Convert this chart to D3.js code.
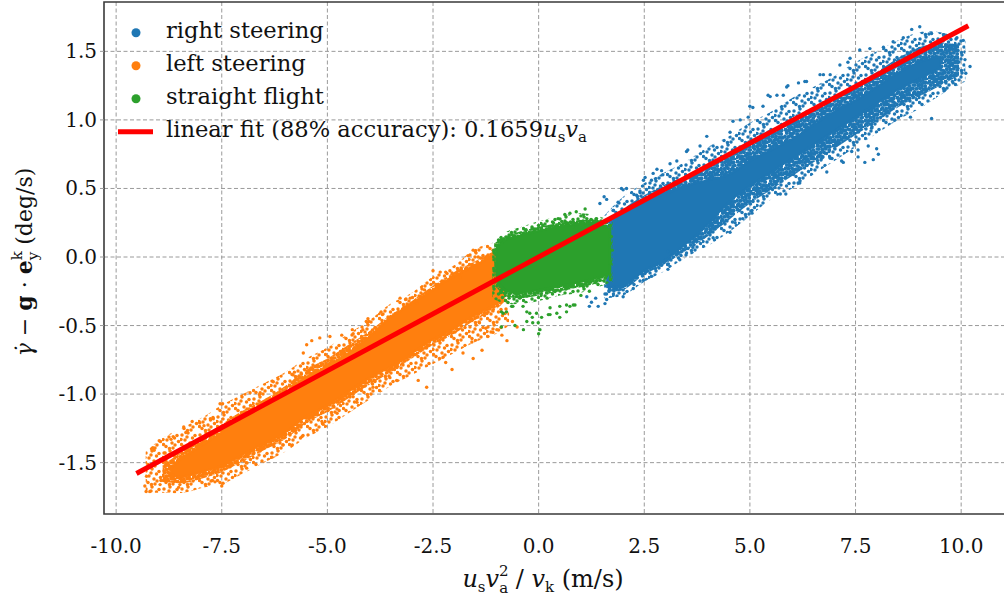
<!DOCTYPE html>
<html><head><meta charset="utf-8">
<script src="https://cdn.jsdelivr.net/npm/d3@7"></script>
<style>
body{margin:0;background:#fff}
svg{display:block}
text{font-family:"DejaVu Serif",serif;fill:#111}
</style>
</head><body>
<svg id="chart" width="1004" height="602"></svg>
<script>
// ---------- data ----------
const xTicks = [-10, -7.5, -5, -2.5, 0, 2.5, 5, 7.5, 10];
const yTicks = [-1.5, -1, -0.5, 0, 0.5, 1, 1.5];
const seriesNames = ["right steering", "left steering", "straight flight"];
const seriesColors = ["#1f77b4", "#ff7f0e", "#2ca02c"];
const fitSlope = 0.1659;
const fitRange = [-9.52, 10.17];

// solid (fully covered) centre of each cloud: [x, yLow, yHigh]
const rightSolid = [[1.62,-0.22,0.22],[2.0,-0.21,0.32],[2.5,-0.10,0.40],[3.0,-0.02,0.46],[3.5,0.10,0.52],[4.0,0.24,0.56],[4.5,0.40,0.60],[5.0,0.52,0.70],[5.5,0.62,0.78],[6.0,0.72,0.86],[6.5,0.82,0.96],[7.0,0.92,1.06],[7.5,1.02,1.14],[8.0,1.12,1.24],[8.5,1.22,1.34],[9.0,1.30,1.42],[9.5,1.38,1.46]];
const leftSolid = [[-8.7,-1.60,-1.54],[-8.4,-1.60,-1.46],[-7.9,-1.56,-1.36],[-7.5,-1.52,-1.28],[-7.0,-1.44,-1.18],[-6.5,-1.36,-1.10],[-6.0,-1.28,-1.00],[-5.5,-1.16,-0.88],[-5.0,-1.08,-0.80],[-4.5,-0.98,-0.70],[-4.0,-0.88,-0.58],[-3.5,-0.80,-0.44],[-3.0,-0.70,-0.34],[-2.5,-0.60,-0.24],[-2.0,-0.52,-0.14],[-1.5,-0.42,-0.06],[-1.0,-0.34,0.02],[-0.8,-0.28,0.04]];
const straightSolid = [[-1.0,-0.14,0.06],[-0.8,-0.24,0.12],[-0.5,-0.26,0.15],[0.0,-0.24,0.19],[0.5,-0.21,0.22],[1.0,-0.18,0.24],[1.4,-0.15,0.24],[1.68,-0.12,0.20]];

// dense (mostly covered) part: [x, yLow, yHigh]
const rightDense = [[1.62,-0.25,0.25],[2.0,-0.24,0.35],[2.5,-0.13,0.45],[3.0,-0.05,0.53],[3.5,0.05,0.59],[4.0,0.15,0.67],[4.5,0.27,0.75],[5.0,0.39,0.85],[5.5,0.49,0.93],[6.0,0.59,0.99],[6.5,0.69,1.07],[7.0,0.79,1.17],[7.5,0.89,1.25],[8.0,0.99,1.35],[8.5,1.09,1.45],[9.0,1.17,1.53],[9.5,1.25,1.56],[9.95,1.32,1.55]];
const leftDense = [[-8.9,-1.64,-1.52],[-8.4,-1.65,-1.41],[-7.9,-1.61,-1.30],[-7.5,-1.57,-1.22],[-7.0,-1.49,-1.12],[-6.5,-1.41,-1.04],[-6.0,-1.33,-0.94],[-5.5,-1.21,-0.82],[-5.0,-1.13,-0.74],[-4.5,-1.03,-0.64],[-4.0,-0.93,-0.54],[-3.5,-0.84,-0.42],[-3.0,-0.74,-0.32],[-2.5,-0.64,-0.21],[-2.0,-0.56,-0.11],[-1.5,-0.46,-0.03],[-1.0,-0.38,0.05],[-0.8,-0.32,0.06]];
const straightDense = [[-1.05,-0.20,0.10],[-0.8,-0.28,0.15],[-0.5,-0.30,0.18],[0.0,-0.28,0.22],[0.5,-0.25,0.25],[1.0,-0.22,0.27],[1.4,-0.19,0.27],[1.72,-0.15,0.23]];

// looser outer envelope of each cloud: [x, yLow, yHigh]
const rightHalo = [[1.55,-0.30,0.30],[2.0,-0.28,0.44],[2.5,-0.18,0.54],[3.0,-0.10,0.62],[3.5,0.0,0.70],[4.0,0.08,0.80],[4.5,0.18,0.88],[5.0,0.30,0.98],[5.5,0.42,1.06],[6.0,0.50,1.16],[6.5,0.60,1.24],[7.0,0.70,1.32],[7.5,0.80,1.42],[8.0,0.90,1.50],[8.5,1.00,1.58],[9.0,1.08,1.64],[9.5,1.18,1.64],[10.1,1.28,1.58]];
const leftHalo = [[-9.3,-1.72,-1.42],[-8.9,-1.72,-1.32],[-8.4,-1.72,-1.24],[-7.9,-1.68,-1.16],[-7.5,-1.66,-1.08],[-7.0,-1.58,-1.00],[-6.5,-1.50,-0.92],[-6.0,-1.42,-0.84],[-5.5,-1.32,-0.74],[-5.0,-1.24,-0.66],[-4.5,-1.14,-0.56],[-4.0,-1.04,-0.46],[-3.5,-0.94,-0.34],[-3.0,-0.86,-0.26],[-2.5,-0.78,-0.14],[-2.0,-0.70,-0.06],[-1.5,-0.62,0.06],[-1.0,-0.56,0.10],[-0.7,-0.50,0.08]];
const straightHalo = [[-1.1,-0.30,0.10],[-0.8,-0.34,0.18],[-0.4,-0.34,0.22],[0.0,-0.32,0.26],[0.5,-0.28,0.30],[1.0,-0.26,0.32],[1.4,-0.22,0.30],[1.75,-0.18,0.26]];

// individual points around the cores: [x, y]
const rightPts = [[1.14,-0.29],[1.25,-0.33],[1.35,-0.30],[1.41,-0.36],[1.20,-0.36],[1.57,-0.27],[1.57,-0.34],[1.61,-0.31],[1.77,-0.27],[1.77,-0.22],[2.0,-0.24],[2.0,-0.29],[2.24,-0.23],[2.44,-0.12],[2.48,-0.17],[2.63,-0.08],[2.67,-0.14],[2.91,-0.06],[3.06,0.04],[3.06,-0.09],[3.07,-0.05],[3.34,-0.02],[3.5,0.03],[3.65,0.07],[4.13,0.14],[4.53,0.18],[4.65,0.25],[4.83,0.28],[5.05,0.32],[5.05,0.34],[5.4,0.50],[5.63,0.55],[5.72,0.46],[5.85,0.46],[6.14,0.54],[6.18,0.54],[6.5,0.72],[6.7,0.72],[6.82,0.62],[6.9,0.72],[7.17,0.70],[7.21,0.69],[7.41,0.77],[7.56,0.73],[7.72,0.69],[7.80,0.81],[7.92,0.71],[8.0,0.79],[8.04,0.75],[7.56,0.78],[7.88,0.94],[7.88,0.99],[8.43,1.0],[8.8,1.02],[9.30,1.01],[9.62,1.22],[9.81,1.27],[10.11,1.34],[10.21,1.39],[10.09,1.44],
[1.45,0.39],[1.55,0.44],[1.61,0.42],[1.76,0.34],[1.88,0.40],[1.96,0.50],[2.0,0.49],[2.08,0.50],[2.32,0.45],[2.4,0.47],[2.48,0.56],[2.52,0.58],[2.67,0.56],[2.71,0.61],[2.8,0.64],[2.91,0.63],[2.94,0.60],[3.11,0.68],[3.27,0.70],[3.5,0.77],[3.53,0.78],[3.82,0.81],[3.98,0.88],[4.13,0.81],[4.53,0.91],[4.6,0.99],[4.77,1.0],[4.96,1.02],[5.0,1.10],[5.07,1.09],[5.31,1.10],[5.43,1.18],[5.48,1.17],[5.64,1.18],[5.79,1.18],[5.87,1.24],[5.9,1.25],[6.15,1.27],[6.30,1.28],[6.34,1.28],[6.66,1.33],[6.74,1.33],[6.9,1.33],[7.13,1.40],[7.32,1.42],[7.37,1.45],[7.6,1.51],[7.84,1.52],[8.16,1.53],[8.39,1.57],[8.63,1.60],[8.83,1.66],[9.02,1.68],[9.30,1.63],[9.6,1.62],[9.9,1.60],[10.05,1.58]];
const leftPts = [[-9.32,-1.67],[-9.29,-1.71],[-9.20,-1.71],[-9.28,-1.60],[-9.13,-1.39],[-9.10,-1.41],[-8.98,-1.34],[-8.94,-1.63],[-8.96,-1.66],[-8.84,-1.43],[-8.82,-1.49],[-8.65,-1.31],[-8.70,-1.33],[-8.65,-1.59],[-8.49,-1.66],[-8.52,-1.68],[-8.40,-1.24],[-8.35,-1.28],[-8.20,-1.20],[-8.02,-1.21],[-7.92,-1.23],[-7.77,-1.18],[-7.70,-1.18],[-7.54,-1.07],[-7.48,-1.07],[-7.47,-1.65],[-7.50,-1.67],[-7.72,-1.63],[-7.66,-1.64],[-7.30,-1.53],[-6.91,-1.54],[-6.92,-1.50],[-6.83,-0.99],[-6.59,-0.99],[-6.28,-0.91],[-6.31,-1.46],[-6.05,-1.37],[-5.83,-1.37],[-5.81,-0.86],[-5.78,-0.84],[-5.60,-1.31],[-5.57,-0.70],[-5.49,-0.64],[-5.37,-0.61],[-5.18,-0.59],[-4.94,-0.58],[-4.66,-0.57],[-4.39,-0.56],[-4.08,-0.47],[-5.41,-0.88],[-5.13,-1.20],[-5.10,-1.22],[-4.77,-1.14],[-4.72,-1.12],[-4.39,-1.02],
[-4.41,-0.53],[-4.16,-0.53],[-4.04,-0.45],[-4.02,-0.47],[-3.73,-0.40],[-3.70,-0.42],[-3.28,-0.30],[-3.15,-0.31],[-3.04,-0.30],[-2.88,-0.34],[-2.70,-0.24],[-2.55,-0.20],[-2.50,-0.10],[-2.33,-0.11],[-2.20,-0.11],[-2.10,-0.10],[-2.03,-0.15],[-1.86,-0.15],[-1.67,0.01],[-1.55,0.05],[-1.50,0.04],[-1.43,0.0],[-1.23,0.0],[-1.08,0.05],[-0.99,0.03],
[-4.30,-1.06],[-3.92,-0.95],[-3.52,-0.88],[-3.36,-0.90],[-2.85,-0.90],[-2.65,-0.95],[-2.26,-0.73],[-2.20,-0.77],[-2.05,-0.82],[-1.79,-0.70],[-1.58,-0.62],[-1.55,-0.74],[-1.34,-0.68],[-1.20,-0.58],[-1.40,-0.48],[-1.25,-0.52],[-1.08,-0.55],[-0.99,-0.53],[-0.87,-0.57],[-0.75,-0.61],[-0.51,-0.51],[-0.62,-0.47]];
const straightPts = [[0.27,0.22],[0.46,0.28],[0.62,0.31],[0.74,0.32],[0.89,0.33],[1.10,0.35],[1.14,0.28],[0.98,0.26],[0.82,0.22],[0.66,0.25],[1.37,0.28],[-0.56,0.14],[-0.30,0.20],[0.1,0.23],[0.35,0.25],[1.25,0.27],[1.50,0.26],[-0.7,0.16],[-0.9,0.12],[-0.15,0.21],[0.55,0.26],[1.0,0.30],
[-1.05,-0.02],[-1.02,-0.10],[-1.0,0.08],[-1.03,0.03],[-0.95,-0.2],[-0.9,-0.26],[1.72,0.15],[1.70,-0.05],[1.74,0.05],[1.69,-0.13],
[-0.84,-0.41],[-0.64,-0.36],[-0.88,-0.51],[-0.36,-0.53],[-0.28,-0.40],[-0.15,-0.44],[-0.14,-0.48],[-0.01,-0.48],[0.07,-0.44],[0.03,-0.53],[0.0,-0.56],[0.27,-0.42],[0.43,-0.41],[0.50,-0.44],[0.66,-0.35],[0.74,-0.36],[0.86,-0.35],[-0.76,-0.40],[-0.37,-0.36],[-0.61,-0.36],[-0.88,-0.40],[-0.56,-0.50],[-0.21,-0.41],[-0.28,-0.47],[-0.05,-0.41],[0.23,-0.42],[0.27,-0.37],[0.50,-0.36],[0.82,-0.35],[0.66,-0.40],[-0.45,-0.30],[0.2,-0.30],[1.0,-0.28],[1.2,-0.25],[-0.7,-0.30]];

// ---------- drawing ----------
const W = 1004, H = 602;
const plot = {left: 104, top: 2, right: 1010.6, bottom: 514};
const svg = d3.select("#chart");
const x = d3.scaleLinear().domain([-10.287, 11.17]).range([plot.left, plot.right]);
const y = d3.scaleLinear().domain([-1.8745, 1.860]).range([plot.bottom, plot.top]);
const fmt = v => v.toFixed(1);

const defs = svg.append("defs");
defs.append("clipPath").attr("id", "clip")
  .append("rect").attr("x", plot.left).attr("y", plot.top)
  .attr("width", plot.right - plot.left).attr("height", plot.bottom - plot.top);

// speckle textures (marker style) for the looser parts of each cloud
const sparseTile = [[2,3],[8,1],[12.5,6],[5,8],[10,11],[1.5,12.5],[7,5],[13,13],[4,14.5],[15,3.5],[11,16],[16.5,9.5],[7.5,16.5],[1,7.5]];
const denseTile = [[1.5,1.5],[5,2.2],[8.6,1.2],[11.8,2.6],[2.8,5],[6.4,5.6],[9.8,4.8],[13.2,6],[1,8.6],[4.6,8.8],[8,8.2],[11.4,9.4],[2.6,12],[6.2,12.4],[9.6,11.8],[13,13],[0.6,13.6],[4.4,14.8],[7.8,15.2],[11.2,14.6],[14.6,15.6],[14.4,9.8],[13.6,2.2],[6.6,0.4]];
seriesColors.forEach((c, i) => {
  [["sp", sparseTile, 18, 1.75], ["dn", denseTile, 16, 2.0]].forEach(([id, tile, size, r]) => {
    const p = defs.append("pattern").attr("id", id + i).attr("patternUnits", "userSpaceOnUse")
      .attr("width", size).attr("height", size);
    p.selectAll("circle").data(tile).join("circle")
      .attr("cx", d => d[0]).attr("cy", d => d[1]).attr("r", r).attr("fill", c);
  });
});

// grid
const grid = svg.append("g").attr("stroke", "#9a9a9a").attr("stroke-width", 1).attr("stroke-dasharray", "4,2.5");
grid.selectAll("line.gx").data(xTicks).join("line").attr("class", "gx")
  .attr("x1", d => x(d)).attr("x2", d => x(d)).attr("y1", plot.top).attr("y2", plot.bottom);
grid.selectAll("line.gy").data(yTicks).join("line").attr("class", "gy")
  .attr("y1", d => y(d)).attr("y2", d => y(d)).attr("x1", plot.left).attr("x2", W);

// series
const area = d3.area().x(d => x(d[0])).y0(d => y(d[1])).y1(d => y(d[2])).curve(d3.curveCatmullRom);
const layers = svg.append("g").attr("clip-path", "url(#clip)");
const series = [
  {solid: rightSolid, dense: rightDense, halo: rightHalo, pts: rightPts},
  {solid: leftSolid, dense: leftDense, halo: leftHalo, pts: leftPts},
  {solid: straightSolid, dense: straightDense, halo: straightHalo, pts: straightPts}
];
series.forEach((s, i) => {
  const g = layers.append("g");
  g.append("path").datum(s.halo).attr("d", area).attr("fill", `url(#sp${i})`);
  g.append("path").datum(s.dense).attr("d", area).attr("fill", `url(#dn${i})`);
  g.append("path").datum(s.solid).attr("d", area).attr("fill", seriesColors[i])
    .attr("stroke", seriesColors[i]).attr("stroke-width", 2).attr("stroke-linejoin", "round");
  g.selectAll("circle").data(s.pts).join("circle")
    .attr("cx", d => x(d[0])).attr("cy", d => y(d[1])).attr("r", 1.7).attr("fill", seriesColors[i]);
});

// linear fit
layers.append("line")
  .attr("x1", x(fitRange[0])).attr("y1", y(fitSlope * fitRange[0]))
  .attr("x2", x(fitRange[1])).attr("y2", y(fitSlope * fitRange[1]))
  .attr("stroke", "#ff0000").attr("stroke-width", 5);

// spines
svg.append("path")
  .attr("d", `M${W},${plot.top}H${plot.left}V${plot.bottom}H${W}`)
  .attr("fill", "none").attr("stroke", "#3a3a3a").attr("stroke-width", 1.6);

// y ticks
svg.append("g").selectAll("line").data(yTicks).join("line")
  .attr("x1", plot.left - 4).attr("x2", plot.left).attr("y1", d => y(d)).attr("y2", d => y(d))
  .attr("stroke", "#9a9a9a").attr("stroke-width", 1);
svg.append("g").selectAll("text").data(yTicks).join("text")
  .attr("x", 97).attr("y", d => y(d) + 7).attr("text-anchor", "end")
  .attr("font-size", 20).text(fmt);
svg.append("g").selectAll("text").data(xTicks).join("text")
  .attr("x", d => x(d)).attr("y", 553).attr("text-anchor", "middle")
  .attr("font-size", 20).text(fmt);

// x label
const xl = svg.append("text").attr("x", 543).attr("y", 587).attr("text-anchor", "middle").attr("font-size", 24);
xl.append("tspan").attr("font-style", "italic").text("u");
xl.append("tspan").attr("font-size", 15).attr("dy", 5).text("s");
xl.append("tspan").attr("font-style", "italic").attr("dy", -5).text("v");
xl.append("tspan").attr("font-size", 15).attr("dy", -11).text("2");
xl.append("tspan").attr("font-size", 15).attr("dx", -9.5).attr("dy", 17).text("a");
xl.append("tspan").attr("dy", -6).text(" / ");
xl.append("tspan").attr("font-style", "italic").text("v");
xl.append("tspan").attr("font-size", 15).attr("dy", 5).text("k");
xl.append("tspan").attr("dy", -5).text(" (m/s)");

// y label
const yl = svg.append("text").attr("transform", "translate(32,262) rotate(-90)")
  .attr("text-anchor", "middle").attr("font-size", 22);
yl.append("tspan").attr("font-style", "italic").text("\u03B3\u0307");
yl.append("tspan").text(" \u2212 ");
yl.append("tspan").attr("font-weight", "bold").text("g");
yl.append("tspan").text(" \u00B7 ");
yl.append("tspan").attr("font-weight", "bold").text("e");
yl.append("tspan").attr("font-size", 15).attr("dy", -10).text("k");
yl.append("tspan").attr("font-size", 15).attr("dx", -9).attr("dy", 16).text("y");
yl.append("tspan").attr("dy", -6).text(" (deg/s)");

// legend
const leg = svg.append("g");
const rowY = i => 32.7 + i * 33;
seriesNames.forEach((name, i) => {
  leg.append("circle").attr("cx", 136).attr("cy", rowY(i)).attr("r", 4.5).attr("fill", seriesColors[i]);
  leg.append("text").attr("x", 166).attr("y", rowY(i) + 5.5).attr("font-size", 22.6).text(name);
});
leg.append("line").attr("x1", 118).attr("x2", 153).attr("y1", rowY(3)).attr("y2", rowY(3))
  .attr("stroke", "#ff0000").attr("stroke-width", 5);
const lt = leg.append("text").attr("x", 166).attr("y", rowY(3) + 5.5).attr("font-size", 22.6);
lt.append("tspan").text("linear fit (88% accuracy): " + fitSlope.toFixed(4));
lt.append("tspan").attr("font-style", "italic").text("u");
lt.append("tspan").attr("font-size", 15).attr("dy", 5).text("s");
lt.append("tspan").attr("font-style", "italic").attr("dy", -5).text("v");
lt.append("tspan").attr("font-size", 15).attr("dy", 5).text("a");
</script>
</body></html>
